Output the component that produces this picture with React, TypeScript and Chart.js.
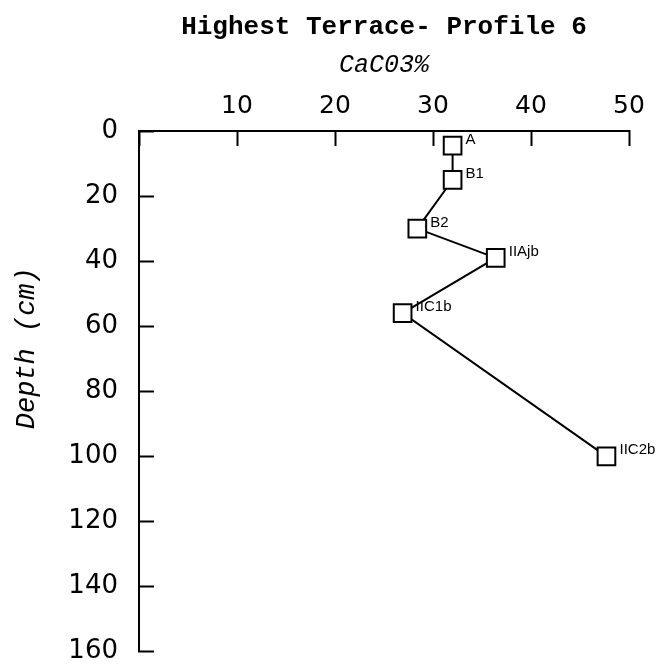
import React, { useEffect, useRef } from 'react';
import { Chart, registerables } from 'chart.js';

Chart.register(...registerables);

// ---- data ----
const horizons = ['A', 'B1', 'B2', 'IIAjb', 'IIC1b', 'IIC2b'];
const caco3Percent = [32.0, 32.0, 28.4, 36.4, 26.9, 47.7];
const depthCm = [4.5, 15, 30, 39, 56, 100];
const titleText = 'Highest Terrace- Profile 6';
const subtitleText = 'CaC03%';
const yAxisTitle = 'Depth (cm)';

const MONO = '"Liberation Mono", "Courier New", monospace';
const SANS = '"DejaVu Sans", Verdana, sans-serif';

const pointLabelPlugin = {
  id: 'pointLabels',
  afterDatasetsDraw(chart: any) {
    const meta = chart.getDatasetMeta(0);
    const ctx = chart.ctx;
    ctx.save();
    ctx.font = '15px "Liberation Sans", Arial, sans-serif';
    ctx.fillStyle = '#000';
    ctx.textAlign = 'left';
    ctx.textBaseline = 'middle';
    meta.data.forEach((pt: any, i: number) => {
      ctx.fillText(horizons[i], pt.x + 13, pt.y - 6);
    });
    ctx.restore();
  },
};

const yTitlePlugin = {
  id: 'yTitle',
  afterDraw(chart: any) {
    const ctx = chart.ctx;
    const area = chart.chartArea;
    ctx.save();
    ctx.translate(27, (area.top + area.bottom) / 2 - 43);
    ctx.rotate(-Math.PI / 2);
    ctx.font = 'italic 27px ' + MONO;
    ctx.fillStyle = '#000';
    ctx.textAlign = 'center';
    ctx.textBaseline = 'middle';
    ctx.fillText(yAxisTitle, 0, 0);
    ctx.restore();
  },
};

export default function App() {
  const ref = useRef<HTMLCanvasElement | null>(null);

  useEffect(() => {
    if (!ref.current) return;
    const chart = new Chart(ref.current, {
      type: 'line',
      data: {
        datasets: [
          {
            data: caco3Percent.map((x, i) => ({ x, y: depthCm[i] })),
            borderColor: '#000',
            borderWidth: 2,
            pointStyle: 'rect',
            pointRadius: 12.5,
            pointBackgroundColor: '#fff',
            pointBorderColor: '#000',
            pointBorderWidth: 2,
            tension: 0,
            clip: false as any,
          },
        ],
      },
      options: {
        responsive: false,
        animation: false,
        layout: { padding: { left: 0, right: 37, top: 0, bottom: 14.3 } },
        plugins: {
          legend: { display: false },
          tooltip: { enabled: false },
          title: {
            display: true,
            text: titleText,
            fullSize: false,
            color: '#000',
            font: { family: MONO, size: 26, weight: 'bold' },
            padding: { top: 12, bottom: 0 },
          },
          subtitle: {
            display: true,
            text: subtitleText,
            fullSize: false,
            color: '#000',
            font: { family: MONO, size: 25, style: 'italic', weight: 'normal' },
            padding: { top: 7, bottom: 0 },
          },
        },
        scales: {
          x: {
            type: 'linear',
            position: 'top',
            min: 0,
            max: 50,
            ticks: {
              stepSize: 10,
              autoSkip: false,
              padding: 25,
              color: '#000',
              font: { family: SANS, size: 25 },
              callback: (v: any) => (v === 0 ? '' : String(v)),
            },
            grid: {
              drawOnChartArea: false,
              drawTicks: true,
              tickLength: -15,
              tickWidth: 2,
              tickColor: '#000',
            },
            border: { display: true, color: '#000', width: 2 },
            afterFit: (s: any) => {
              s.height = 50.8;
              s.paddingLeft = 0;
              s.paddingRight = 0;
            },
          },
          y: {
            type: 'linear',
            reverse: true,
            min: 0,
            max: 160,
            ticks: {
              stepSize: 20,
              autoSkip: false,
              padding: 36,
              color: '#000',
              font: { family: SANS, size: 26 },
            },
            grid: {
              drawOnChartArea: false,
              drawTicks: true,
              tickLength: -15,
              tickWidth: 2,
              tickColor: '#000',
            },
            border: { display: true, color: '#000', width: 2 },
            afterFit: (s: any) => {
              s.width = 139;
              s.paddingTop = 0;
              s.paddingBottom = 0;
            },
          },
        },
      } as any,
      plugins: [pointLabelPlugin, yTitlePlugin],
    });
    return () => chart.destroy();
  }, []);

  return (
    <div style={{ position: 'fixed', left: 0, top: 0, width: 666, height: 666, background: '#fff' }}>
      <canvas ref={ref} width={666} height={666} style={{ display: 'block' }} />
    </div>
  );
}
